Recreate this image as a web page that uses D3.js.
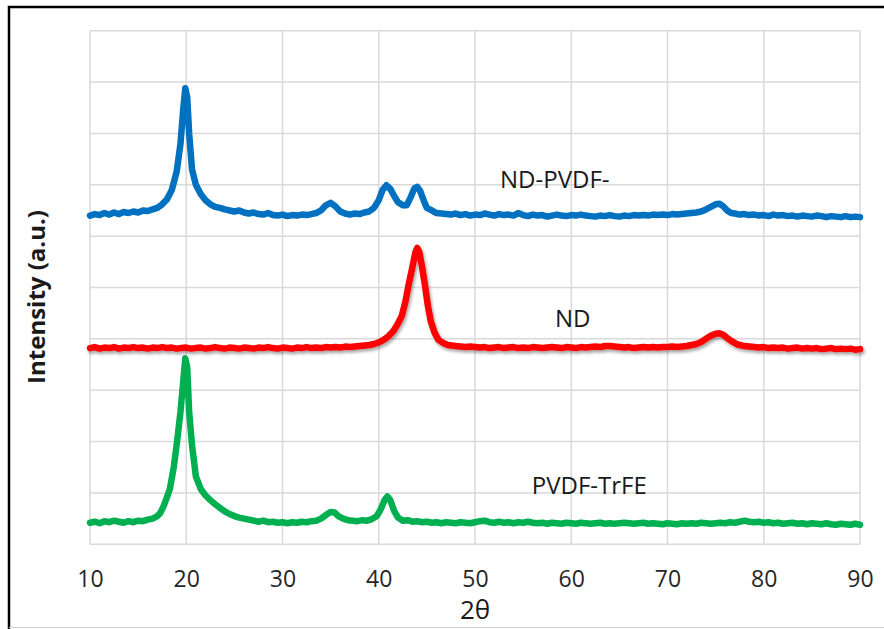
<!DOCTYPE html>
<html>
<head>
<meta charset="utf-8">
<script src="https://cdn.jsdelivr.net/npm/d3@7"></script>
<style>
body { margin:0; background:#fff; }
svg { display:block; font-family:"Open Sans", sans-serif; }
</style>
</head>
<body>
<svg id="xrd"></svg>
<script>
// XRD patterns, [2theta, intensity] (stacked, a.u.)
var ndPvdf = [
[10,6.40],[10.5,6.43],[11,6.41],[11.5,6.45],[12,6.42],[12.5,6.46],[13,6.43],[13.5,6.47],[14,6.45],[14.5,6.48],
[15,6.46],[15.5,6.50],[16,6.49],[16.5,6.52],[17,6.55],[17.5,6.62],[18,6.72],[18.5,6.90],[19,7.25],[19.4,7.80],
[19.7,8.50],[19.9,8.88],[20.1,8.70],[20.3,8.00],[20.6,7.30],[21,7.00],[21.5,6.82],[22,6.70],[22.5,6.62],[23,6.57],
[23.5,6.55],[24,6.52],[24.5,6.50],[25,6.48],[25.5,6.50],[26,6.46],[26.5,6.44],[27,6.46],[27.5,6.43],[28,6.42],
[28.5,6.45],[29,6.41],[29.5,6.40],[30,6.42],[30.5,6.39],[31,6.41],[31.5,6.40],[32,6.42],[32.5,6.41],[33,6.43],
[33.5,6.45],[34,6.50],[34.5,6.60],[35,6.65],[35.5,6.58],[36,6.48],[36.5,6.44],[37,6.42],[37.5,6.44],[38,6.43],
[38.5,6.46],[39,6.48],[39.5,6.55],[40,6.70],[40.4,6.90],[40.8,6.99],[41.2,6.92],[41.6,6.78],[42,6.66],[42.5,6.60],
[42.9,6.60],[43.3,6.75],[43.7,6.93],[44,6.96],[44.3,6.88],[44.7,6.68],[45,6.55],[45.5,6.50],[46,6.45],[46.5,6.44],
[47,6.43],[47.5,6.42],[48,6.44],[48.5,6.41],[49,6.43],[49.5,6.40],[50,6.42],[50.5,6.41],[51,6.44],[51.5,6.42],
[52,6.40],[52.5,6.43],[53,6.41],[53.5,6.42],[54,6.40],[54.5,6.45],[55,6.41],[55.5,6.39],[56,6.42],[56.5,6.40],
[57,6.41],[57.5,6.38],[58,6.40],[58.5,6.42],[59,6.40],[59.5,6.39],[60,6.41],[60.5,6.40],[61,6.42],[61.5,6.40],
[62,6.39],[62.5,6.38],[63,6.40],[63.5,6.39],[64,6.41],[64.5,6.39],[65,6.38],[65.5,6.40],[66,6.39],[66.5,6.41],
[67,6.40],[67.5,6.41],[68,6.40],[68.5,6.42],[69,6.41],[69.5,6.42],[70,6.41],[70.5,6.43],[71,6.42],[71.5,6.43],
[72,6.44],[72.5,6.45],[73,6.46],[73.5,6.48],[74,6.52],[74.5,6.57],[75,6.62],[75.4,6.63],[75.8,6.58],[76.2,6.50],
[76.6,6.45],[77,6.44],[77.5,6.42],[78,6.43],[78.5,6.41],[79,6.42],[79.5,6.40],[80,6.41],[80.5,6.39],[81,6.42],
[81.5,6.40],[82,6.41],[82.5,6.39],[83,6.40],[83.5,6.38],[84,6.40],[84.5,6.39],[85,6.38],[85.5,6.40],[86,6.39],
[86.5,6.37],[87,6.39],[87.5,6.38],[88,6.37],[88.5,6.39],[89,6.37],[89.5,6.38],[90,6.37]
];

var nd = [
[10,3.82],[10.5,3.84],[11,3.81],[11.5,3.83],[12,3.82],[12.5,3.84],[13,3.81],[13.5,3.83],[14,3.82],[14.5,3.84],
[15,3.82],[15.5,3.83],[16,3.81],[16.5,3.83],[17,3.82],[17.5,3.84],[18,3.82],[18.5,3.83],[19,3.81],[19.5,3.82],
[20,3.83],[20.5,3.81],[21,3.82],[21.5,3.83],[22,3.81],[22.5,3.82],[23,3.84],[23.5,3.82],[24,3.81],[24.5,3.83],
[25,3.82],[25.5,3.81],[26,3.83],[26.5,3.82],[27,3.81],[27.5,3.83],[28,3.82],[28.5,3.84],[29,3.82],[29.5,3.81],
[30,3.83],[30.5,3.82],[31,3.81],[31.5,3.83],[32,3.82],[32.5,3.84],[33,3.82],[33.5,3.83],[34,3.82],[34.5,3.84],
[35,3.83],[35.5,3.84],[36,3.83],[36.5,3.85],[37,3.84],[37.5,3.85],[38,3.86],[38.5,3.87],[39,3.88],[39.5,3.90],
[40,3.93],[40.5,3.98],[41,4.05],[41.5,4.15],[42,4.30],[42.4,4.45],[42.8,4.75],[43.1,5.05],[43.5,5.40],[43.8,5.68],
[44,5.77],[44.2,5.70],[44.5,5.40],[44.8,5.05],[45.1,4.65],[45.4,4.35],[45.8,4.12],[46.2,3.98],[46.7,3.92],[47.2,3.88],
[48,3.86],[48.5,3.85],[49,3.84],[49.5,3.85],[50,3.84],[50.5,3.83],[51,3.84],[51.5,3.82],[52,3.83],[52.5,3.84],
[53,3.82],[53.5,3.83],[54,3.84],[54.5,3.82],[55,3.83],[55.5,3.82],[56,3.84],[56.5,3.83],[57,3.82],[57.5,3.83],
[58,3.84],[58.5,3.83],[59,3.82],[59.5,3.84],[60,3.83],[60.5,3.82],[61,3.84],[61.5,3.83],[62,3.84],[62.5,3.85],
[63,3.84],[63.5,3.86],[64,3.86],[64.5,3.85],[65,3.84],[65.5,3.83],[66,3.84],[66.5,3.82],[67,3.83],[67.5,3.84],
[68,3.83],[68.5,3.84],[69,3.83],[69.5,3.84],[70,3.84],[70.5,3.85],[71,3.84],[71.5,3.85],[72,3.86],[72.5,3.88],
[73,3.90],[73.5,3.94],[74,4.00],[74.5,4.06],[75,4.10],[75.4,4.11],[75.8,4.08],[76.3,4.00],[76.8,3.94],[77.3,3.89],
[78,3.86],[78.5,3.85],[79,3.84],[79.5,3.83],[80,3.84],[80.5,3.82],[81,3.83],[81.5,3.82],[82,3.83],[82.5,3.81],
[83,3.82],[83.5,3.83],[84,3.81],[84.5,3.82],[85,3.81],[85.5,3.82],[86,3.80],[86.5,3.81],[87,3.82],[87.5,3.80],
[88,3.81],[88.5,3.80],[89,3.81],[89.5,3.79],[90,3.80]
];

var pvdfTrfe = [
[10,0.42],[10.5,0.44],[11,0.41],[11.5,0.45],[12,0.43],[12.5,0.46],[13,0.44],[13.5,0.42],[14,0.45],[14.5,0.43],
[15,0.46],[15.5,0.45],[16,0.48],[16.5,0.50],[17,0.55],[17.3,0.61],[17.6,0.72],[18,0.92],[18.3,1.08],[18.7,1.50],
[19,1.93],[19.4,2.58],[19.7,3.20],[19.9,3.62],[20.1,3.45],[20.3,2.58],[20.6,1.93],[21,1.32],[21.5,1.08],[22,0.95],
[22.5,0.86],[23,0.78],[23.5,0.71],[24,0.64],[24.5,0.59],[25,0.55],[25.5,0.52],[26,0.50],[26.5,0.48],[27,0.46],
[27.5,0.44],[28,0.46],[28.5,0.43],[29,0.44],[29.5,0.42],[30,0.43],[30.5,0.41],[31,0.43],[31.5,0.42],[32,0.44],
[32.5,0.43],[33,0.45],[33.5,0.46],[34,0.50],[34.5,0.57],[35,0.63],[35.4,0.62],[35.8,0.55],[36.3,0.50],[36.8,0.47],
[37.3,0.46],[37.8,0.45],[38.3,0.47],[38.8,0.46],[39.3,0.49],[39.8,0.55],[40.2,0.68],[40.6,0.86],[40.9,0.93],[41.2,0.86],
[41.6,0.65],[42,0.52],[42.5,0.46],[43,0.47],[43.5,0.44],[44,0.45],[44.5,0.43],[45,0.44],[45.5,0.42],[46,0.43],
[46.5,0.41],[47,0.43],[47.5,0.42],[48,0.41],[48.5,0.43],[49,0.42],[49.5,0.41],[50,0.43],[50.5,0.45],[51,0.46],
[51.5,0.43],[52,0.42],[52.5,0.44],[53,0.42],[53.5,0.43],[54,0.41],[54.5,0.43],[55,0.42],[55.5,0.44],[56,0.42],
[56.5,0.41],[57,0.42],[57.5,0.40],[58,0.42],[58.5,0.41],[59,0.40],[59.5,0.42],[60,0.41],[60.5,0.40],[61,0.42],
[61.5,0.41],[62,0.40],[62.5,0.41],[63,0.42],[63.5,0.40],[64,0.41],[64.5,0.40],[65,0.41],[65.5,0.42],[66,0.41],
[66.5,0.40],[67,0.41],[67.5,0.42],[68,0.40],[68.5,0.41],[69,0.40],[69.5,0.39],[70,0.41],[70.5,0.40],[71,0.39],
[71.5,0.41],[72,0.40],[72.5,0.41],[73,0.40],[73.5,0.42],[74,0.41],[74.5,0.40],[75,0.41],[75.5,0.42],[76,0.41],
[76.5,0.43],[77,0.42],[77.5,0.44],[78,0.46],[78.5,0.44],[79,0.43],[79.5,0.44],[80,0.42],[80.5,0.43],[81,0.41],
[81.5,0.42],[82,0.40],[82.5,0.41],[83,0.42],[83.5,0.40],[84,0.41],[84.5,0.39],[85,0.41],[85.5,0.40],[86,0.39],
[86.5,0.41],[87,0.39],[87.5,0.38],[88,0.40],[88.5,0.39],[89,0.38],[89.5,0.40],[90,0.38]
];

var seriesNames = ["ND-PVDF-", "ND", "PVDF-TrFE"];
var seriesColors = ["#0070C0", "#FF0000", "#00B050"];
// label anchor points, [2theta, intensity]
var labelAt = [[52.6,6.93],[58.3,4.23],[55.9,0.98]];
var xTicks = [10,20,30,40,50,60,70,80,90];
var yGrid = [0,1,2,3,4,5,6,7,8,9,10];

var screen = {width:884, height:629};
var margins = {top:30.7, bottom:84.7, left:90, right:24};
var graph =
{
    width:screen.width-margins.left-margins.right,
    height:screen.height-margins.top-margins.bottom
};

var svg = d3.select("#xrd")
    .attr("width",screen.width)
    .attr("height",screen.height);

// outer frame of the figure
svg.append("path")
    .attr("d","M9,629 L9,7 L884,7")
    .attr("fill","none")
    .attr("stroke","#000")
    .attr("stroke-width",2.5);
svg.append("line")
    .attr("x1",9).attr("x2",884).attr("y1",627.5).attr("y2",627.5)
    .attr("stroke","#d0d0d0").attr("stroke-width",1);

// shadow used by the red line
var shadow = svg.append("defs").append("filter")
    .attr("id","shadow")
    .attr("x","-5%").attr("y","-20%").attr("width","110%").attr("height","140%");
shadow.append("feDropShadow")
    .attr("dx",1.5).attr("dy",2.5).attr("stdDeviation",1.5)
    .attr("flood-color","#000").attr("flood-opacity",0.35);

var xScale = d3.scaleLinear()
    .domain([10,90])
    .range([0,graph.width]);
var yScale = d3.scaleLinear()
    .domain([0,10])
    .range([graph.height,0]);

var g = svg.append("g")
    .attr("transform","translate("+margins.left+","+margins.top+")");

// grid lines
g.append("g").selectAll("line")
    .data(yGrid)
    .enter()
    .append("line")
    .attr("x1",0).attr("x2",graph.width)
    .attr("y1",function(d){ return yScale(d); })
    .attr("y2",function(d){ return yScale(d); })
    .attr("stroke","#d9d9d9").attr("stroke-width",1.5);
g.append("g").selectAll("line")
    .data(xTicks)
    .enter()
    .append("line")
    .attr("x1",function(d){ return xScale(d); })
    .attr("x2",function(d){ return xScale(d); })
    .attr("y1",0).attr("y2",graph.height)
    .attr("stroke","#d9d9d9").attr("stroke-width",1.5);

// x axis labels only
var xAxis = d3.axisBottom(xScale)
    .tickValues(xTicks)
    .tickSize(0)
    .tickPadding(26);
var ax = g.append("g")
    .attr("transform","translate(0,"+graph.height+")")
    .call(xAxis);
ax.select(".domain").remove();
ax.selectAll("text")
    .attr("font-family","'Open Sans', sans-serif")
    .attr("font-size",23)
    .attr("fill","#262626");

// the three patterns
var line = d3.line()
    .x(function(d){ return xScale(d[0]); })
    .y(function(d){ return yScale(d[1]); });

var allSeries = [ndPvdf, nd, pvdfTrfe];
g.append("g").selectAll("path")
    .data(allSeries)
    .enter()
    .append("path")
    .attr("d",line)
    .attr("fill","none")
    .attr("stroke",function(d,i){ return seriesColors[i]; })
    .attr("stroke-width",6.5)
    .attr("stroke-linejoin","round")
    .attr("stroke-linecap","round")
    .attr("filter",function(d,i){ return i==1 ? "url(#shadow)" : null; });

// series labels
g.append("g").selectAll("text")
    .data(seriesNames)
    .enter()
    .append("text")
    .attr("x",function(d,i){ return xScale(labelAt[i][0]); })
    .attr("y",function(d,i){ return yScale(labelAt[i][1]); })
    .attr("font-size",24)
    .attr("fill","#1a1a1a")
    .text(function(d){ return d; });

// axis titles
svg.append("text")
    .attr("x",margins.left+graph.width/2)
    .attr("y",619)
    .attr("text-anchor","middle")
    .attr("font-size",26)
    .attr("fill","#1a1a1a")
    .text("2θ");

svg.append("text")
    .attr("transform","translate(45,297) rotate(-90)")
    .attr("text-anchor","middle")
    .attr("font-size",24)
    .attr("font-weight","bold")
    .attr("fill","#1a1a1a")
    .text("Intensity (a.u.)");
</script>
</body>
</html>
